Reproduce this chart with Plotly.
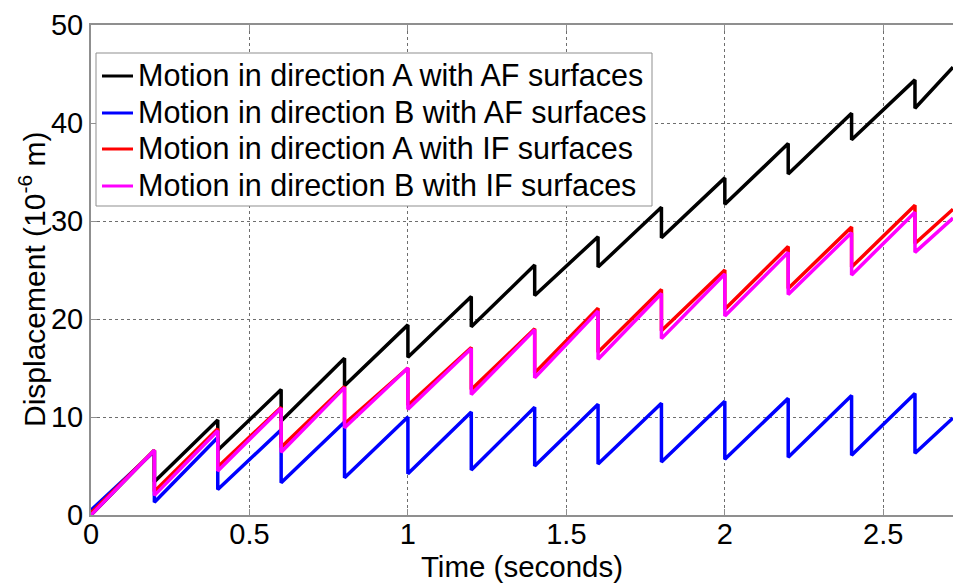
import plotly.graph_objects as go

# Stick-slip displacement records: value just before each slip (peak) and
# just after it (trough), one slip every 0.2 s.
slip_times = [0.2, 0.4, 0.6, 0.8, 1.0, 1.2, 1.4, 1.6, 1.8, 2.0, 2.2, 2.4, 2.6]
t_start = 0.0
t_end = 2.72

a_af_start = 0.0
a_af_peaks = [6.6, 9.7, 12.8, 16.0, 19.4, 22.3, 25.5, 28.4, 31.4, 34.4, 37.9, 41.0, 44.4]
a_af_troughs = [3.4, 6.6, 9.6, 13.2, 16.1, 19.2, 22.4, 25.3, 28.3, 31.7, 34.8, 38.3, 41.5]
a_af_end = 45.7

b_af_start = 0.5
b_af_peaks = [6.5, 7.9, 8.7, 9.5, 10.0, 10.5, 11.0, 11.3, 11.4, 11.6, 11.9, 12.2, 12.4]
b_af_troughs = [1.3, 2.6, 3.3, 3.8, 4.2, 4.6, 5.0, 5.2, 5.4, 5.7, 5.9, 6.1, 6.3]
b_af_end = 9.9

a_if_start = 0.2
a_if_peaks = [6.6, 8.8, 11.0, 13.1, 15.0, 17.1, 19.0, 21.1, 23.0, 25.0, 27.4, 29.4, 31.6]
a_if_troughs = [2.4, 4.9, 6.9, 9.3, 11.2, 12.8, 14.5, 16.6, 18.8, 21.0, 23.1, 25.3, 27.7]
a_if_end = 31.2

b_if_start = 0.0
b_if_peaks = [6.6, 8.6, 10.9, 13.0, 15.0, 17.0, 18.9, 20.8, 22.6, 24.6, 26.8, 28.8, 30.9]
b_if_troughs = [2.0, 4.5, 6.4, 8.9, 10.8, 12.3, 14.0, 15.9, 18.0, 20.3, 22.5, 24.5, 26.8]
b_if_end = 30.3

labels = [
    "Motion in direction A with AF surfaces",
    "Motion in direction B with AF surfaces",
    "Motion in direction A with IF surfaces",
    "Motion in direction B with IF surfaces",
]
colors = ["#000000", "#0000ff", "#ff0000", "#ff00ff"]

x_ticks = [0, 0.5, 1, 1.5, 2, 2.5]
x_tick_text = ["0", "0.5", "1", "1.5", "2", "2.5"]
y_ticks = [0, 10, 20, 30, 40, 50]


def sawtooth(start, peaks, troughs, end):
    xs, ys = [t_start], [start]
    for t, p, tr in zip(slip_times, peaks, troughs):
        xs += [t, t]
        ys += [p, tr]
    xs.append(t_end)
    ys.append(end)
    return xs, ys


series = [
    (a_af_start, a_af_peaks, a_af_troughs, a_af_end),
    (b_af_start, b_af_peaks, b_af_troughs, b_af_end),
    (a_if_start, a_if_peaks, a_if_troughs, a_if_end),
    (b_if_start, b_if_peaks, b_if_troughs, b_if_end),
]

FONT = "Liberation Sans, Arial, sans-serif"
W, H = 953, 583
ML, MR, MT, MB = 91, 0, 25, 68
PW, PH = W - ML - MR, H - MT - MB


def px_x(px):
    return (px - ML) / PW


def px_y(py):
    return (H - MB - py) / PH


fig = go.Figure()
for (s, p, tr, e), name, col in zip(series, labels, colors):
    xs, ys = sawtooth(s, p, tr, e)
    fig.add_trace(go.Scatter(
        x=xs, y=ys, mode="lines", name=name,
        line=dict(color=col, width=3.5),
        showlegend=False,
    ))

axis_common = dict(
    showline=True, linecolor="#8f8f8f", linewidth=2,
    ticks="inside", ticklen=6, tickcolor="#8f8f8f", tickwidth=1,
    showgrid=True, gridcolor="#6e6e6e", griddash="dot", gridwidth=1,
    zeroline=False,
    tickfont=dict(family=FONT, size=29, color="#000000"),
)

# Boxed legend in the upper-left corner of the axes
legend_box = dict(x0=96, x1=652, y0=53, y1=206)
legend_rows = [75, 112, 148, 185]
shapes = [dict(
    type="rect", xref="paper", yref="paper", layer="above",
    x0=px_x(legend_box["x0"]), x1=px_x(legend_box["x1"]),
    y0=px_y(legend_box["y1"]), y1=px_y(legend_box["y0"]),
    line=dict(color="#8f8f8f", width=1), fillcolor="white",
)]
annotations = []
for row_y, name, col in zip(legend_rows, labels, colors):
    shapes.append(dict(
        type="line", xref="paper", yref="paper", layer="above",
        x0=px_x(102), x1=px_x(133), y0=px_y(row_y + 1), y1=px_y(row_y + 1),
        line=dict(color=col, width=3),
    ))
    annotations.append(dict(
        text=name, xref="paper", yref="paper",
        x=px_x(136), y=px_y(row_y), xanchor="left", yanchor="middle",
        showarrow=False, font=dict(family=FONT, size=30.5, color="#000000"),
    ))

# Vertical axis title
annotations.append(dict(
    text="Displacement (10<sup>-6</sup> m)", xref="paper", yref="paper",
    x=px_x(32), y=px_y(280), xanchor="center", yanchor="middle",
    textangle=-90, showarrow=False,
    font=dict(family=FONT, size=30, color="#000000"),
))

fig.update_layout(
    width=W, height=H,
    margin=dict(l=ML, r=MR, t=MT, b=MB),
    paper_bgcolor="white", plot_bgcolor="white",
    font=dict(family=FONT, color="#000000"),
    xaxis=dict(
        range=[0, t_end], tickvals=x_ticks, ticktext=x_tick_text,
        mirror="ticks", ticklabelstandoff=-8,
        title=dict(text="Time (seconds)", font=dict(family=FONT, size=29.5), standoff=0),
        **axis_common,
    ),
    yaxis=dict(
        range=[0, 50], tickvals=y_ticks,
        **axis_common,
    ),
    shapes=shapes,
    annotations=annotations,
    showlegend=False,
)

fig.write_html("out.html")
